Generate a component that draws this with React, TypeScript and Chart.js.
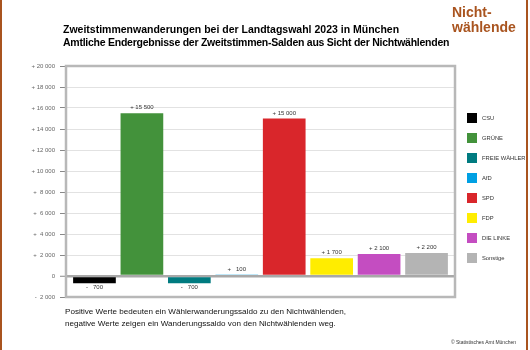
import React, { useEffect, useRef } from "react";
import { Chart, registerables } from "chart.js";

Chart.register(...registerables);

const categories = ["CSU", "GRÜNE", "FREIE WÄHLER", "AfD", "SPD", "FDP", "DIE LINKE", "Sonstige"];
const values = [-700, 15500, -700, 100, 15000, 1700, 2100, 2200];
const colors = ["#000000", "#43923b", "#007b80", "#00a0e3", "#d9262b", "#ffed00", "#c44dc1", "#b4b4b4"];
const yMin = -2000;
const yMax = 20000;
const yStep = 2000;

const FONT = "'Liberation Sans', Arial, sans-serif";
const BROWN = "#a9541f";

function group(n: number): string {
  return String(Math.abs(n)).replace(/\B(?=(\d{3})+(?!\d))/g, " ");
}
function fmtTick(v: number): string {
  if (v === 0) return "0";
  return (v > 0 ? "+ " : "- ") + group(v).padStart(6, " ");
}
function fmtLabel(v: number): string {
  return (v >= 0 ? "+ " : "- ") + group(v).padStart(5, " ");
}

const framePlugin = {
  id: "frame",
  beforeDatasetsDraw(chart: any) {
    const { ctx, chartArea } = chart;
    ctx.save();
    ctx.strokeStyle = "#b8b8b8";
    ctx.lineWidth = 2.5;
    ctx.strokeRect(chartArea.left, chartArea.top, chartArea.right - chartArea.left, chartArea.bottom - chartArea.top);
    ctx.restore();
  },
};

const labelPlugin = {
  id: "barLabels",
  afterDatasetsDraw(chart: any) {
    const { ctx } = chart;
    const meta = chart.getDatasetMeta(0);
    ctx.save();
    ctx.font = `6px ${FONT}`;
    ctx.fillStyle = "#333";
    ctx.textAlign = "center";
    ctx.textBaseline = "middle";
    meta.data.forEach((el: any, i: number) => {
      const v = values[i];
      const y = v >= 0 ? el.y - 5.5 : el.y + 4;
      ctx.fillText(fmtLabel(v), el.x, y);
    });
    ctx.restore();
  },
};

export default function App() {
  const ref = useRef<HTMLCanvasElement | null>(null);
  useEffect(() => {
    document.body.style.margin = "0";
    const chart = new Chart(ref.current as HTMLCanvasElement, {
      type: "bar",
      data: {
        datasets: [
          {
            data: values.map((v, i) => ({ x: i, y: v })),
            backgroundColor: colors,
            borderWidth: 0,
            barPercentage: 0.9,
            categoryPercentage: 1,
          },
        ],
      },
      options: {
        animation: false,
        responsive: false,
        devicePixelRatio: 1,
        layout: { padding: { left: 0, top: 66, right: 75, bottom: 53 } },
        plugins: { legend: { display: false }, tooltip: { enabled: false } },
        scales: {
          x: { type: "linear", min: -0.6, max: 7.6, offset: false, display: false },
          y: {
            min: yMin,
            max: yMax,
            afterFit: (s: any) => {
              s.width = 66;
            },
            ticks: {
              stepSize: yStep,
              callback: (v: any) => fmtTick(Number(v)),
              font: { size: 6, family: FONT },
              color: "#666",
              padding: 5,
            },
            grid: {
              color: (c: any) => (c.tick && c.tick.value === 0 ? "#a8a8a8" : "#e2e2e2"),
              lineWidth: (c: any) => (c.tick && c.tick.value === 0 ? 2.5 : 1),
              tickColor: "#888",
              tickLength: 6,
              tickWidth: 1,
            },
            border: { display: false },
          },
        },
      } as any,
      plugins: [framePlugin, labelPlugin],
    });
    return () => chart.destroy();
  }, []);

  return (
    <div style={{ position: "fixed", left: 0, top: 0, width: 530, height: 350, background: "#fff", fontFamily: FONT, overflow: "hidden" }}>
      <canvas ref={ref} width={530} height={350} style={{ position: "absolute", left: 0, top: 0 }} />
      <div style={{ position: "absolute", left: 0, top: 0, width: 2, height: 350, background: BROWN }} />
      <div style={{ position: "absolute", left: 526, top: 0, width: 2, height: 350, background: BROWN }} />
      <div style={{ position: "absolute", left: 63, top: 23, fontSize: 10.5, fontWeight: "bold", lineHeight: "13.3px", color: "#000", whiteSpace: "nowrap" }}>
        <div>Zweitstimmenwanderungen bei der Landtagswahl 2023 in München</div>
        <div style={{ letterSpacing: "-0.25px" }}>Amtliche Endergebnisse der Zweitstimmen-Salden aus Sicht der Nichtwählenden</div>
      </div>
      <div style={{ position: "absolute", left: 452, top: 4.5, fontSize: 14, fontWeight: "bold", lineHeight: "15px", color: BROWN, whiteSpace: "nowrap" }}>
        <div>Nicht-</div>
        <div>wählende</div>
      </div>
      {categories.map((c, i) => (
        <React.Fragment key={c}>
          <div style={{ position: "absolute", left: 467, top: 113.3 + i * 19.9, width: 10, height: 10, background: colors[i] }} />
          <div style={{ position: "absolute", left: 482, top: 113.3 + i * 19.9, height: 10, lineHeight: "10px", fontSize: 5.8, color: "#333", whiteSpace: "nowrap" }}>{c}</div>
        </React.Fragment>
      ))}
      <div style={{ position: "absolute", left: 65, top: 305.7, fontSize: 8.1, lineHeight: "12px", color: "#111", whiteSpace: "nowrap" }}>
        <div>Positive Werte bedeuten ein Wählerwanderungssaldo zu den Nichtwählenden,</div>
        <div>negative Werte zeigen ein Wanderungssaldo von den Nichtwählenden weg.</div>
      </div>
      <div style={{ position: "absolute", right: 14, top: 338.7, fontSize: 5, lineHeight: "6px", color: "#333", whiteSpace: "nowrap" }}>© Statistisches Amt München</div>
    </div>
  );
}
